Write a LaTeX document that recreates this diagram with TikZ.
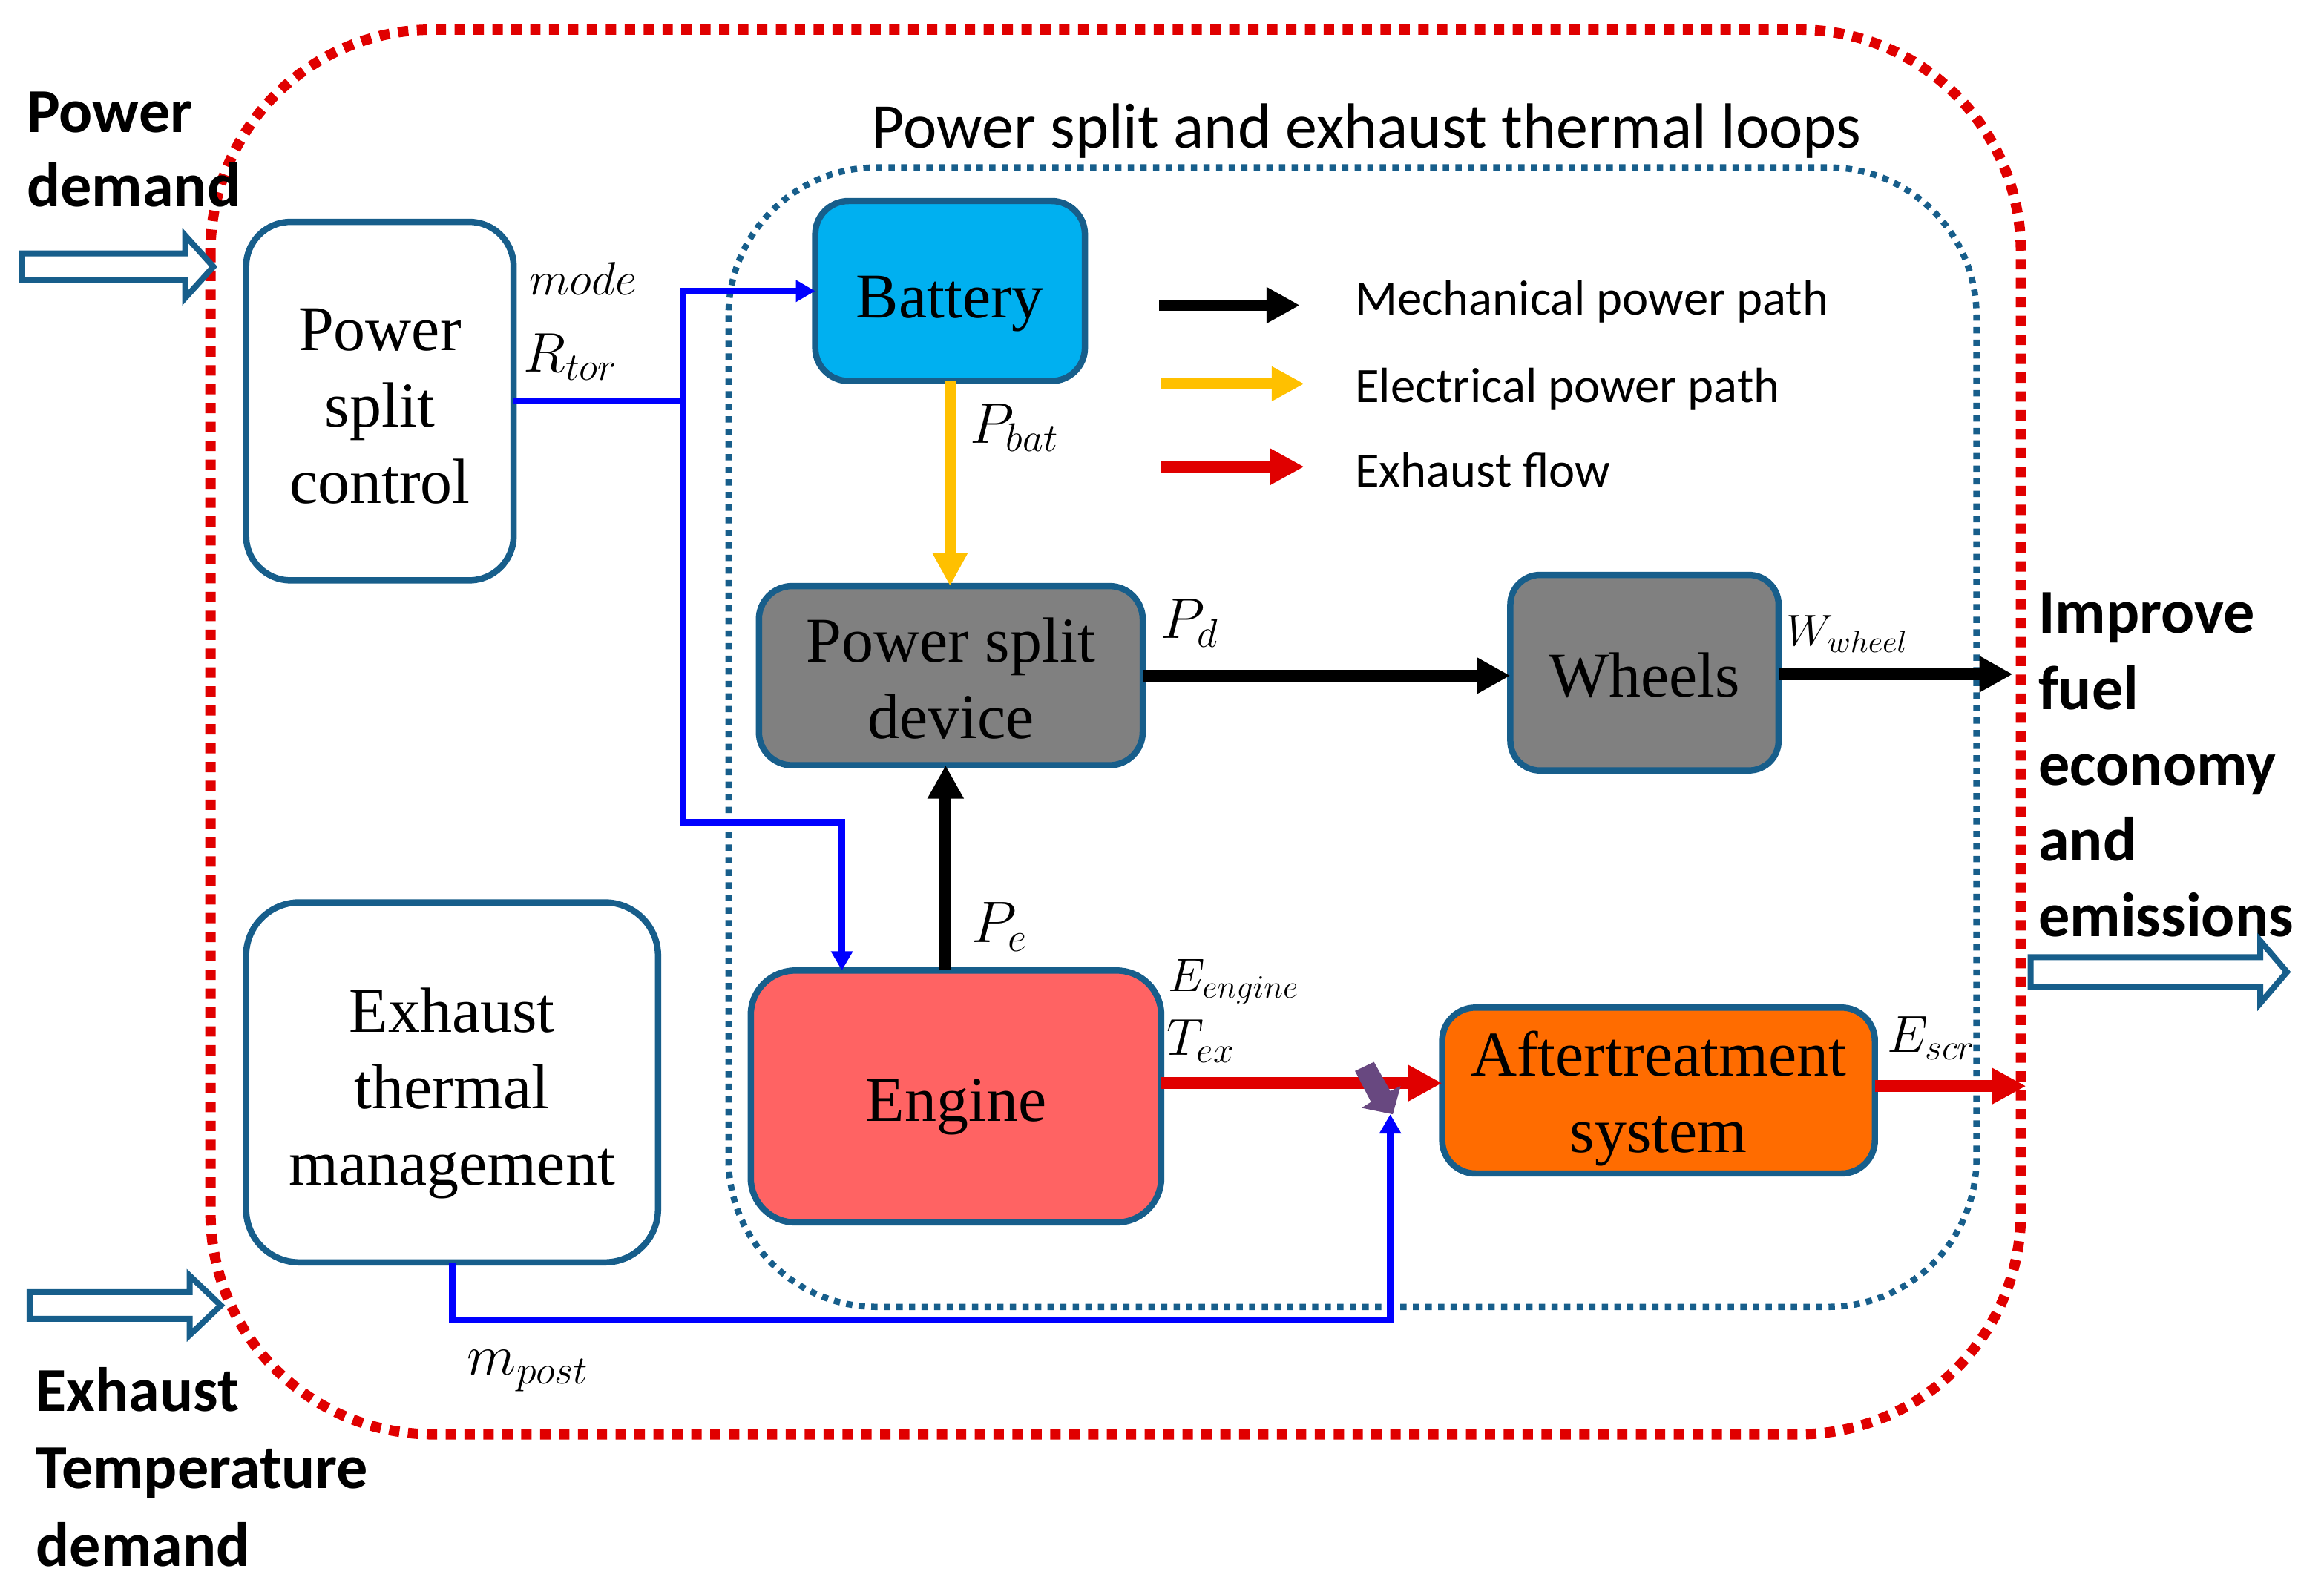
\RequirePackage{fix-cm}
\documentclass[tikz,border=0pt]{standalone}
\usepackage{fontspec}
\setmainfont{Liberation Serif}
\newfontfamily\carl{Carlito}
\usetikzlibrary{arrows.meta}
\definecolor{bblue}{RGB}{23,94,139}
\definecolor{dred}{RGB}{224,0,0}
\definecolor{cblue}{RGB}{0,0,255}
\definecolor{yel}{RGB}{255,192,0}
\definecolor{batfill}{RGB}{0,176,240}
\definecolor{grayfill}{RGB}{128,128,128}
\definecolor{engfill}{RGB}{255,99,99}
\definecolor{atfill}{RGB}{255,108,0}
\definecolor{valvecol}{RGB}{104,72,128}
\newcommand{\bxfont}{\fontsize{24.5}{29.3}\selectfont}
\newcommand{\tpad}[1]{\rule{0pt}{#1}}
\newcommand{\harrow}[6]{\draw[hollowarrow] (#1,#4-#5) -- (#2,#4-#5) -- (#2,#4-#6) -- (#3,#4) -- (#2,#4+#6) -- (#2,#4+#5) -- (#1,#4+#5) -- cycle;}
\tikzset{
  box/.style={draw=bblue, line width=0.085cm, outer sep=0pt, inner sep=0pt, align=center, font=\bxfont},
  hollowarrow/.style={draw=bblue, line width=0.08cm, line join=miter},
  lab/.style={inner sep=0pt, anchor=base west},
  bconn/.style={draw=cblue, line width=0.09cm, -{Triangle[length=0.26cm,width=0.28cm]}},
  kconn/.style={draw=black, line width=0.16cm, -{Triangle[length=0.45cm,width=0.46cm]}},
  yconn/.style={draw=yel, line width=0.15cm, -{Triangle[length=0.44cm,width=0.44cm]}},
  rconn/.style={draw=dred, line width=0.155cm, -{Triangle[length=0.46cm,width=0.46cm]}},
  bigsans/.style={inner sep=0pt, anchor=base west, align=left},
  legtext/.style={inner sep=0pt, anchor=base west, font=\carl\fontsize{19}{19}\selectfont},
}
\begin{document}
\begin{tikzpicture}[x=0.02cm,y=-0.02cm]
\useasboundingbox (0,0) rectangle (1568,1066);

% loops
\draw[dred, line width=0.14cm, dash pattern=on 0.14cm off 0.115cm, rounded corners=3cm] (142,20) rectangle (1363.5,968);
\draw[bblue, line width=0.085cm, dash pattern=on 0.085cm off 0.085cm, rounded corners=2cm] (491.5,113) rectangle (1333.5,882);

% title
\node[inner sep=0pt, anchor=base, font=\carl\fontsize{24.5}{24.5}\selectfont] (title) at (922,100) {Power split and exhaust thermal loops};

% outside labels (anchor = baseline of last line)
\node[bigsans, font=\carl\bfseries\fontsize{24}{28.5}\selectfont] (pd) at (17.8,139.3) {Power\\demand};
\node[bigsans, font=\carl\bfseries\fontsize{24}{29.8}\selectfont] (etd) at (24,1057) {Exhaust\\Temperature\\demand};
\node[bigsans, font=\carl\bfseries\fontsize{24}{29.1}\selectfont] (imp) at (1375,632) {Improve\\fuel\\economy\\and\\emissions};

\harrow{15}{125}{144}{180}{9}{21}
\harrow{20}{128}{149}{881}{9}{20}
\harrow{1370}{1525}{1543}{656}{10}{21}

% boxes
\node[box, fill=white, rounded corners=0.6cm, minimum width=3.61cm, minimum height=4.84cm] (psc) at (256.3,270.7) {\tpad{20pt}Power\\split\\control};
\node[box, fill=white, rounded corners=0.72cm, minimum width=5.56cm, minimum height=4.86cm] (etm) at (305,730.5) {\tpad{25.5pt}Exhaust\\thermal\\management};
\node[box, fill=batfill, rounded corners=0.45cm, minimum width=3.64cm, minimum height=2.43cm] (bat) at (641,196.4) {\tpad{26pt}Battery};
\node[box, fill=grayfill, rounded corners=0.45cm, minimum width=5.18cm, minimum height=2.42cm] (psd) at (641.5,456) {\tpad{19pt}Power split\\device};
\node[box, fill=grayfill, rounded corners=0.4cm, minimum width=3.62cm, minimum height=2.64cm] (whl) at (1109.5,454) {\tpad{19pt}Wheels};
\node[box, fill=engfill, rounded corners=0.6cm, minimum width=5.54cm, minimum height=3.4cm] (eng) at (645,740) {\tpad{24.5pt}Engine};
\node[box, fill=atfill, rounded corners=0.45cm, minimum width=5.84cm, minimum height=2.24cm] (at) at (1119,736) {\tpad{23.5pt}Aftertreatment\\system};

% legend
\coordinate (lk1) at (782,206); \coordinate (lk2) at (877,206);
\coordinate (ly1) at (783,259); \coordinate (ly2) at (880,259);
\coordinate (lr1) at (783,315); \coordinate (lr2) at (880,315);
\draw[kconn, line width=0.15cm] (lk1) -- (lk2);
\draw[yconn] (ly1) -- (ly2);
\draw[rconn] (lr1) -- (lr2);
\node[legtext] (lt1) at (914,212.4) {Mechanical power path};
\node[legtext] (lt2) at (914,271.8) {Electrical power path};
\node[legtext] (lt3) at (914,328.7) {Exhaust flow};

% blue control lines
\coordinate (jx) at (461,0);
\coordinate (j1) at (psc.east -| jx);
\coordinate (j2) at (461,555);
\coordinate (ein) at ([xshift=-1.54cm]eng.north);
\draw[bconn] (psc.east) -- (j1) |- (bat.west);
\draw[bconn] (j1) -- (j2) -| (ein);

% power paths
\draw[yconn] (bat.south) -- (bat.south |- psd.north);
\coordinate (bk1) at ([xshift=-0.07cm]psd.south);
\draw[kconn] (bk1 |- eng.north) -- (bk1);
\draw[kconn] (psd.east) -- (psd.east -| whl.west);
\coordinate (wout) at (1358,455);
\draw[kconn] (whl.east |- wout) -- (wout);

% exhaust
\coordinate (atin) at ([yshift=0.1cm]at.west);
\coordinate (rout) at (1367,733);
\draw[rconn] (eng.east |- atin) -- (atin);
\draw[rconn] (at.east |- rout) -- (rout);

% valve
\fill[valvecol] (914.2,722.8) -- (927,716.7) -- (938,736.3) -- (945,733) -- (939.7,752) -- (918.7,747.7) -- (925,743.7) -- cycle;
\coordinate (valve) at (938,752);
\coordinate (mbase) at (0,891);
\draw[bconn] (etm.south) -- (etm.south |- mbase) -| (valve);

% math labels
\node[lab, font=\fontsize{18}{18}\selectfont] (lmode) at (357,199) {$mode$};
\node[lab, font=\fontsize{21.5}{21.5}\selectfont] (lrtor) at (353,251) {$R_{tor}$};
\node[lab, font=\fontsize{22}{22}\selectfont] (lpbat) at (654,299) {$P_{bat}$};
\node[lab, font=\fontsize{22}{22}\selectfont] (lpd) at (783,431) {$P_{d}$};
\node[lab, font=\fontsize{22.5}{22.5}\selectfont] (lpe) at (655,636) {$P_{e}$};
\node[lab, font=\fontsize{17}{17}\selectfont] (lww) at (1205,436) {$W_{wheel}$};
\node[lab, font=\fontsize{18}{18}\selectfont] (lee) at (788,669) {$E_{engine}$};
\node[lab, font=\fontsize{20}{20}\selectfont] (ltex) at (787,712) {$T_{ex}$};
\node[lab, font=\fontsize{20}{20}\selectfont] (lescr) at (1273,710) {$E_{scr}$};
\node[lab, font=\fontsize{22}{22}\selectfont] (lmp) at (315,928) {$m_{post}$};
\end{tikzpicture}
\end{document}
